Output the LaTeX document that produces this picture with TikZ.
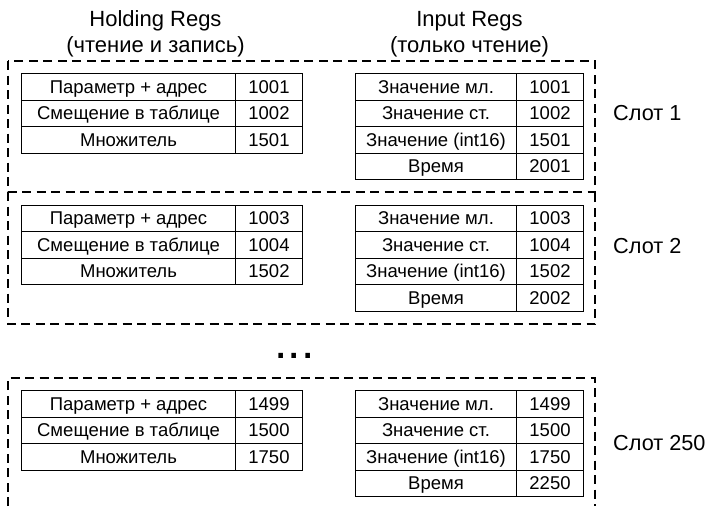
\documentclass[tikz,border=0pt]{standalone}
\usepackage{fontspec}
\setmainfont{Liberation Sans}
\tikzset{
  cell/.style={draw, line width=1pt, minimum height=26.5pt, inner sep=0pt, anchor=north west,
    font=\fontsize{18.5}{22}\selectfont, text height=13.3pt, text depth=0pt},
  labL/.style={cell, minimum width=214pt},
  labR/.style={cell, minimum width=161pt},
  num/.style={cell, minimum width=67pt},
  slotbox/.style={draw, line width=1.1pt, dash pattern=on 9pt off 5.5pt},
  head/.style={font=\fontsize{22}{26}\selectfont, anchor=base, inner sep=0pt},
  slotlab/.style={font=\fontsize{21.7}{26}\selectfont, anchor=base west, inner sep=0pt}
}
\newcommand{\hregtab}[5]{%
  \node[labL] (#1p) at (21,#2) {Параметр + адрес};
  \node[num]  (#1pn) at (235,#2) {#3};
  \node[labL] (#1s) at (21,#2+26.5) {Смещение в таблице};
  \node[num]  (#1sn) at (235,#2+26.5) {#4};
  \node[labL] (#1m) at (21,#2+53) {Множитель};
  \node[num]  (#1mn) at (235,#2+53) {#5};
}
\newcommand{\iregtab}[6]{%
  \node[labR] (#1l) at (355,#2) {Значение мл.};
  \node[num]  (#1ln) at (516,#2) {#3};
  \node[labR] (#1h) at (355,#2+26.5) {Значение ст.};
  \node[num]  (#1hn) at (516,#2+26.5) {#4};
  \node[labR] (#1i) at (355,#2+53) {Значение (int16)};
  \node[num]  (#1in) at (516,#2+53) {#5};
  \node[labR] (#1t) at (355,#2+79.5) {Время};
  \node[num]  (#1tn) at (516,#2+79.5) {#6};
}
\begin{document}
\begin{tikzpicture}[x=1pt,y=-1pt]
\useasboundingbox (0,0) rectangle (706,506);
\node[head] (hhead1) at (155.5,27) {Holding Regs};
\node[head] (hhead2) at (155.5,52.5) {(чтение и запись)};
\node[head] (ihead1) at (469.5,27) {Input Regs};
\node[head] (ihead2) at (469.5,52.5) {(только чтение)};
% slot boxes
\draw[slotbox] (8,61) rectangle (595,192);
\draw[slotbox] (8,192) -- (8,324) -- (595,324) -- (595,192);
\draw[slotbox] (8,506) -- (8,378) -- (595,378) -- (595,506);
% tables
\hregtab{a}{73}{1001}{1002}{1501}
\iregtab{b}{73}{1001}{1002}{1501}{2001}
\hregtab{c}{204.5}{1003}{1004}{1502}
\iregtab{d}{204.5}{1003}{1004}{1502}{2002}
\hregtab{e}{390}{1499}{1500}{1750}
\iregtab{f}{390}{1499}{1500}{1750}{2250}
% slot labels
\node[slotlab] (s1) at (613,120) {Слот 1};
\node[slotlab] (s2) at (613,253) {Слот 2};
\node[slotlab] (s3) at (613,450) {Слот 250};
\node[font=\fontsize{48}{48}\selectfont, anchor=base, inner sep=0pt] (dots) at (294.5,358) {...};
\end{tikzpicture}
\end{document}
